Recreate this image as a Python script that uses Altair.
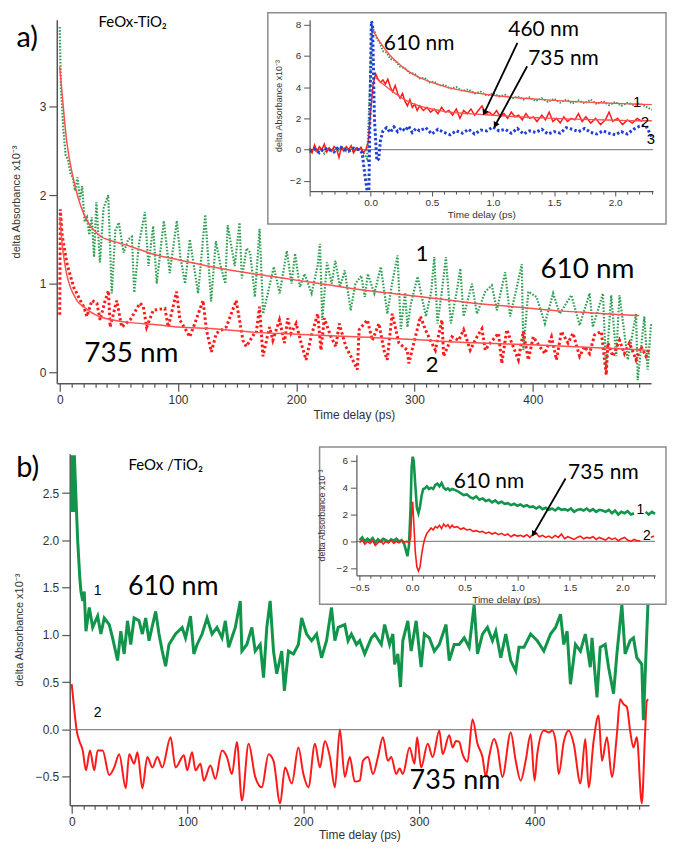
import altair as alt
import pandas as pd

# ================= Panel a : main (FeOx-TiO2) =================
A610_T = [0, 1, 2, 3, 5, 7, 9, 11, 13, 15, 17, 19, 21, 23, 25, 27, 29, 31, 34, 37,
          41, 44, 47, 50, 54, 58, 61, 63, 67, 72, 75, 79, 82, 88, 93, 99, 102, 106, 110, 117,
          123, 128, 132, 136, 140, 142, 148, 152, 154, 158, 161, 165, 169, 172, 181, 186, 192, 196, 199, 203,
          207, 213, 218, 220, 222, 226, 230, 233, 237, 241, 246, 250, 255, 258, 260.5, 266, 271.5, 277, 281, 285.6,
          288.4, 292, 294, 297, 302.6, 309.6, 314, 316.7, 319.4, 323, 326.5, 330.7, 336.3, 338.7, 341.5, 348.5, 352.8, 359.8, 365.4, 369.6,
          376.6, 380.8, 386.5, 390.7, 392, 396.2, 403.2, 410.2, 417.2, 422.8, 432.6, 439.6, 448, 450.8, 459.3, 462, 466.3, 470.5, 473.3, 480.3,
          487.3, 488.7, 494.3, 497.1, 500]
A610_V = [3.9, 3.2, 3.0, 2.75, 2.45, 2.4, 2.25, 2.2, 2.05, 2.2, 1.95, 2.1, 1.7, 1.75, 1.55, 1.75, 1.3, 1.92, 1.24, 1.85,
          2.0, 0.89, 1.6, 1.69, 1.35, 1.5, 1.53, 0.9, 1.45, 1.81, 1.2, 1.65, 1.0, 1.71, 1.12, 1.71, 1.3, 1.0, 1.5, 0.89,
          1.78, 0.8, 1.48, 1.2, 1.0, 1.66, 1.2, 1.69, 1.06, 1.4, 1.35, 0.85, 1.62, 0.66, 1.19, 0.89, 1.37, 1.0, 1.34, 0.96,
          1.11, 0.89, 1.2, 1.45, 0.59, 1.24, 1.0, 1.26, 0.96, 1.15, 0.7, 1.0, 1.09, 0.85, 1.11, 0.89, 1.19, 0.66, 1.0, 1.32,
          0.49, 0.9, 0.51, 0.78, 1.08, 0.63, 0.9, 1.3, 0.55, 0.9, 1.3, 0.55, 0.96, 1.17, 0.63, 1.0, 0.66, 0.91, 0.98, 0.7,
          1.13, 0.63, 0.96, 1.22, 0.25, 0.91, 0.85, 0.55, 0.89, 0.66, 0.87, 0.53, 0.89, 0.51, 0.89, 0.03, 0.87, 0.18, 0.87, 0.14,
          0.66, -0.09, 0.63, 0.03, 0.55]

A735_T = [0, 0.5, 2, 6.2, 11.8, 17.4, 20.2, 23, 27.2, 31.4, 34.2, 38.4, 41.2, 42.6, 48.2, 52.4, 59.5, 67.9, 70.7, 73.5,
          79.1, 88.9, 91.8, 98.8, 101.6, 110, 114.2, 121.2, 124, 128.2, 132.4, 140.8, 149.2, 154.9, 157.7, 164.7,
          166.1, 169, 171.8, 177.4, 180.2, 185.8, 190, 192.8, 195.6, 199.9, 204.1, 208.3, 212.5, 218.1, 220.9, 223.7, 229.3, 233.5, 236.3, 241.9,
          246.1, 251.7, 253.1, 260.1, 264.3, 269.9, 274.1, 276.9, 281.1, 286.8, 293.8, 295.2, 299.4, 305, 309.2, 313.4, 317.6, 323.2, 324.6, 331.6,
          337.3, 341.5, 347.1, 352.8, 357, 359.8, 364, 371, 373.8, 378, 382.2, 387.8, 392, 396.2, 400.4, 405.9, 410.2, 415.8, 420, 424.2,
          429.8, 434, 439.6, 443.8, 448, 452.2, 457.9, 462.1, 463.5, 467.7, 473.3, 477.5, 481.7, 487.3, 491.5, 495.7, 498]
A735_V = [0.65, 1.84, 1.55, 1.22, 0.96, 0.81, 0.74, 0.63, 0.81, 0.78, 0.59, 0.81, 0.92, 0.51, 0.81, 0.51, 0.59, 0.78, 0.74, 0.51,
          0.7, 0.72, 0.51, 0.91, 0.59, 0.4, 0.55, 0.81, 0.48, 0.23, 0.44, 0.51, 0.81, 0.36, 0.29, 0.44,
          0.44, 0.74, 0.18, 0.51, 0.36, 0.59, 0.33, 0.61, 0.44, 0.55, 0.33, 0.14, 0.4, 0.66, 0.25, 0.61, 0.4, 0.29, 0.55, 0.29,
          0.18, 0.03, 0.48, 0.59, 0.36, 0.55, 0.25, 0.14, 0.66, 0.33, 0.25, 0.1, 0.33, 0.63, 0.48, 0.36, 0.25, 0.59, 0.18, 0.4,
          0.36, 0.48, 0.25, 0.4, 0.49, 0.25, 0.33, 0.44, 0.1, 0.48, 0.33, 0.14, 0.46, 0.14, 0.4, 0.29, 0.21, 0.4, 0.14, 0.46,
          0.33, 0.44, 0.18, 0.29, 0.21, 0.42, 0.46, -0.03, 0.33, 0.18, 0.36, 0.21, 0.33, 0.14, 0.29, 0.18, 0.25]

A610_FIT_T = [0, 2, 4, 6, 8, 10, 13, 16, 20, 25, 30, 35, 40, 50, 60, 80, 100, 125, 150, 175, 200, 225, 250,
              275, 300, 325, 350, 375, 400, 425, 450, 475, 490]
A610_FIT_V = [3.45, 3.15, 2.85, 2.6, 2.42, 2.28, 2.1, 1.95, 1.8, 1.67, 1.59, 1.53, 1.5, 1.46, 1.42, 1.33, 1.27, 1.2,
              1.14, 1.09, 1.04, 0.99, 0.94, 0.9, 0.86, 0.82, 0.78, 0.75, 0.72, 0.69, 0.67, 0.65, 0.64]
A735_FIT_T = [0, 1, 2, 4, 6, 9, 12, 15, 20, 25, 30, 35, 45, 60, 80, 100, 130, 165, 200, 250, 300, 335, 400, 450, 495]
A735_FIT_V = [1.75, 1.6, 1.45, 1.25, 1.1, 0.96, 0.87, 0.8, 0.74, 0.69, 0.65, 0.62, 0.59, 0.56, 0.54, 0.51, 0.49, 0.45,
              0.43, 0.40, 0.37, 0.34, 0.31, 0.28, 0.25]

# ================= Panel a : inset (ps) =================
IA610_T = [-0.5, -0.47, -0.44, -0.41, -0.38, -0.35, -0.32, -0.29, -0.26, -0.23, -0.2, -0.17, -0.14, -0.11, -0.08, -0.05,
           -0.03, -0.01, 0.01, 0.03, 0.05, 0.07, 0.1, 0.13, 0.16, 0.2, 0.24, 0.28, 0.32, 0.36, 0.4, 0.44, 0.48, 0.52, 0.56, 0.6,
           0.65, 0.7, 0.75, 0.8, 0.85, 0.9, 0.95, 1.0, 1.05, 1.1, 1.15, 1.2, 1.25, 1.3, 1.35, 1.4, 1.45, 1.5, 1.55, 1.6,
           1.65, 1.7, 1.75, 1.8, 1.85, 1.9, 1.95, 2.0, 2.05, 2.1, 2.15, 2.2, 2.25, 2.3]
IA610_V = [-0.2, 0.1, -0.15, 0.05, -0.25, 0.15, -0.05, 0.1, -0.1, 0.2, -0.1, 0.05, -0.15, 0.1, -0.05, -0.3,
           -0.6, 3.5, 7.8, 7.6, 7.1, 6.9, 6.3, 6.2, 5.8, 5.7, 5.3, 5.2, 4.9, 4.85, 4.55, 4.6, 4.3, 4.35, 4.1, 4.15,
           3.9, 4.0, 3.75, 3.85, 3.6, 3.7, 3.45, 3.6, 3.4, 3.5, 3.25, 3.4, 3.2, 3.35, 3.1, 3.3, 3.05, 3.25, 3.0, 3.2,
           2.95, 3.15, 2.95, 3.2, 2.9, 3.1, 2.85, 3.05, 2.8, 3.0, 2.85, 2.95, 2.75, 2.55]
IA610_FIT_T = [0.02, 0.05, 0.1, 0.15, 0.2, 0.3, 0.4, 0.5, 0.6, 0.7, 0.8, 0.9, 1.0, 1.2, 1.4, 1.6, 1.8, 2.0, 2.2, 2.3]
IA610_FIT_V = [7.6, 7.2, 6.6, 6.1, 5.7, 5.05, 4.6, 4.3, 4.05, 3.85, 3.7, 3.58, 3.48, 3.32, 3.2, 3.1, 3.02, 2.96, 2.9, 2.88]

IA460_T = [-0.5, -0.48, -0.46, -0.44, -0.42, -0.4, -0.38, -0.36, -0.34, -0.32, -0.3, -0.28, -0.26, -0.24, -0.22, -0.2,
           -0.18, -0.16, -0.14, -0.12, -0.1, -0.08, -0.06, -0.04,
           -0.02, 0.0, 0.02, 0.04, 0.06, 0.08, 0.1, 0.12, 0.14, 0.16, 0.18, 0.2, 0.22, 0.24, 0.26, 0.28, 0.3, 0.32, 0.34, 0.36,
           0.38, 0.4, 0.43, 0.46, 0.49, 0.52, 0.55, 0.58, 0.61, 0.64, 0.67, 0.7, 0.73, 0.76, 0.79, 0.82, 0.85, 0.88, 0.91, 0.94,
           0.97, 1.0, 1.03, 1.06, 1.09, 1.12, 1.15, 1.18, 1.21, 1.24, 1.27, 1.3, 1.33, 1.36, 1.4, 1.43, 1.46, 1.49, 1.52, 1.55,
           1.58, 1.61, 1.64, 1.67, 1.7, 1.73, 1.76, 1.8, 1.84, 1.88, 1.92, 1.95, 1.98, 2.02, 2.06, 2.1, 2.14, 2.18, 2.22]
IA460_V = [0.1, -0.2, 0.3, -0.1, 0.2, 0.0, 0.35, -0.15, 0.1, -0.1, 0.2, 0.05, -0.5, 0.15, -0.1, 0.2,
           0.0, 0.25, -0.2, 0.1, -0.05, 0.15, -0.2, 0.0,
           0.5, 2.5, 4.2, 4.85, 4.5, 4.3, 4.45, 4.2, 4.5, 4.0, 3.7, 4.1, 3.6, 3.3, 3.6, 3.1, 2.8, 3.2, 2.7, 2.9,
           2.5, 2.8, 2.5, 2.7, 2.4, 2.6, 2.3, 2.7, 2.4, 2.5, 2.2, 2.6, 2.0, 2.5, 2.3, 2.6, 2.2, 2.5, 2.8, 2.3,
           2.4, 2.2, 2.5, 2.1, 2.3, 2.0, 2.4, 2.1, 2.2, 1.9, 2.3, 2.0, 2.1, 1.8, 2.2, 1.9, 2.4, 1.8, 2.0, 1.7,
           2.1, 1.8, 2.0, 1.9, 2.3, 1.8, 2.1, 1.7, 2.0, 1.6, 1.9, 2.4, 1.8, 2.0, 1.6, 1.9, 1.7, 2.0, 1.8]
IA460_FIT_T = [0.04, 0.1, 0.2, 0.3, 0.4, 0.5, 0.6, 0.8, 1.0, 1.2, 1.4, 1.6, 1.8, 2.0, 2.2, 2.3]
IA460_FIT_V = [4.6, 4.2, 3.6, 3.1, 2.8, 2.6, 2.45, 2.3, 2.2, 2.1, 2.03, 1.97, 1.92, 1.88, 1.85, 1.85]

IA735_T = [-0.5, -0.46, -0.42, -0.38, -0.34, -0.3, -0.26, -0.22, -0.18, -0.14, -0.1,
           -0.07, -0.05, -0.03, -0.015, -0.005, 0.005, 0.015, 0.03, 0.05, 0.065, 0.08,
           0.1, 0.13, 0.16, 0.19, 0.22, 0.25, 0.28, 0.31, 0.34, 0.37, 0.4,
           0.45, 0.5, 0.55, 0.6, 0.65, 0.7, 0.75, 0.8, 0.85, 0.9, 0.95, 1.0, 1.05, 1.1, 1.15, 1.2, 1.25, 1.3, 1.35, 1.4,
           1.45, 1.5, 1.55, 1.6, 1.65, 1.7, 1.75, 1.8, 1.85, 1.9, 1.95, 2.0, 2.05, 2.1, 2.15, 2.2, 2.25, 2.3]
IA735_V = [-0.1, 0.05, -0.2, 0.1, 0.0, -0.15, 0.2, 0.05, -0.1, 0.1, 0.0,
           -0.2, -1.5, -2.6, -2.6, 3.0, 8.2, 8.0, 2.0, -0.7, -0.6, 0.6,
           1.2, 1.4, 1.1, 1.45, 1.15, 1.4, 1.2, 1.5, 1.1, 1.35, 1.2,
           1.4, 1.0, 1.3, 1.1, 0.95, 1.2, 1.05, 1.3, 1.0, 1.25, 1.2, 1.45, 1.2, 1.3, 1.05, 1.35, 1.0, 1.2, 1.1, 1.3,
           1.0, 1.15, 1.05, 1.4, 1.3, 1.15, 1.35, 1.1, 1.0, 1.2, 1.05, 0.95, 1.15, 1.0, 1.3, 1.5, 1.55, 0.8]

# ================= Panel b : main (FeOx / TiO2) =================
B610_T = [0, 0.7, 1.5, 2.3, 3.5, 5.2, 7, 8, 9.5, 10.8, 12.3, 15.2, 18.1, 22.4, 25.2, 28.1, 32.4, 35.3, 39.6, 42.4,
          45.3, 48.2, 51, 53.9, 58.2, 61, 63.9, 66.8, 72.5, 75.4, 78.2, 81.1, 84, 89.7, 95.4, 98.3, 102.6, 105.5, 108.3, 112.6,
          116.9, 121.2, 125.5, 129.8, 132.7, 135.6, 141.3, 145.6, 147, 151.3, 155.6, 158.5, 162.8, 165.7, 168.5, 171.4, 174.3, 177.1, 181.4, 183.7,
          187.2, 191.5, 195.8, 198.6, 202.9, 207.2, 211.5, 215.8, 220.1, 224.4, 227.3, 230.2, 235.9, 238.7, 241.6, 245.9, 248.8, 253.1, 258.8, 261.7,
          267.4, 270.3, 274.6, 277.4, 278.9, 281.7, 284, 286, 290.3, 293.2, 297.5, 301.8, 304.6, 308.9, 313.2, 317.5, 323.3, 326.1, 330.4, 334.7,
          339, 343.3, 347.6, 350.5, 354.8, 359.1, 363.4, 366.3, 370.6, 374.9, 379.2, 383.5, 386.3, 390.6, 396.4, 402.1, 407.8, 413.6, 417.9, 422.2,
          425, 427.9, 430.8, 435.1, 439.4, 443.6, 447.9, 449.4, 453.7, 456.5, 460.8, 463.7, 468, 470.9, 475.2, 478, 482.3, 485.2, 488.1, 492.4,
          493.8, 496.7, 498.1]
B610_V = [2.3, 2.9, 2.3, 2.9, 2.5, 1.99, 1.6, 1.46, 1.36, 1.46, 1.04, 1.29, 1.08, 1.2, 1.01, 1.18, 1.11, 0.97, 0.73, 1.04,
          0.8, 1.15, 0.9, 1.18, 1.15, 1.01, 1.18, 0.94, 1.25, 1.01, 0.83, 0.67, 0.9, 1.01, 1.08, 0.97, 1.2, 0.8, 0.9, 1.01,
          1.18, 1.01, 1.08, 0.97, 1.15, 0.87, 1.08, 1.36, 0.83, 0.9, 1.08, 0.83, 0.9, 0.55, 1.08, 1.36, 0.83, 0.59, 0.83, 0.41,
          0.83, 0.8, 0.9, 1.18, 1.01, 0.94, 1.01, 0.76, 0.94, 1.29, 0.94, 1.08, 1.11, 0.94, 1.01, 0.9, 0.94, 0.8, 0.97, 1.01,
          0.9, 1.11, 0.9, 1.01, 0.69, 0.8, 0.45, 0.94, 1.15, 0.83, 1.15, 0.66, 1.01, 0.97, 0.83, 0.9, 1.11, 0.73, 0.9, 0.9,
          0.97, 0.87, 1.32, 0.8, 1.01, 1.08, 0.94, 1.04, 0.76, 1.01, 0.73, 0.62, 0.87, 0.87, 1.01, 0.94, 0.83, 1.01, 1.08, 1.22,
          0.9, 1.04, 0.48, 0.9, 0.83, 1.01, 0.66, 0.97, 0.34, 0.87, 0.9, 0.66, 0.38, 0.8, 1.32, 0.8, 0.94, 0.97, 0.76, 0.69,
          0.1, 1.01, 1.45]

B735_T = [0, 2.3, 4.3, 6.6, 9.5, 12.3, 15.8, 19.5, 22.4, 26.7, 32.4, 36.7, 41, 46.7, 49.6, 53.9, 56.8, 61, 65.3, 69.7,
          74, 78.2, 85.4, 89.7, 96.9, 99.7, 104, 106.9, 111.2, 114.1, 119.8, 124.1, 129.8, 134.1, 138.4, 142.7, 147, 152.8, 158.5, 164.2,
          170, 174.3, 180, 184.3, 190.1, 195.8, 200.1, 204.4, 210.1, 214.4, 218.7, 223, 227.3, 231.6,
          235.9, 240.2, 244.5, 248.8, 251.6, 255.9, 260.2, 264.5, 268.8, 273.1, 276, 280.3, 283.2, 286, 291.8, 296.1, 298.3, 301.8, 307.5, 311.8,
          317.5, 320.4, 326.1, 329, 331.9, 334.7, 337.6, 341.9, 346.2, 350.5, 354.8, 357.7, 360.5, 364.8, 367.7, 372, 379.2, 383.5, 387.8, 392.1,
          396.4, 399.8, 402.1, 407.8, 412.1, 415, 417.9, 420.7, 425, 429.3, 433.6, 439.4, 443.6, 446.5, 450.8, 455.1, 458, 462.3, 466.6, 470.9,
          473.7, 476.6, 479.5, 482.3, 485.2, 488.1, 492.4, 495.2, 496.7, 498]
B735_V = [0.48, 0.2, -0.01, -0.12, -0.22, -0.43, -0.22, -0.43, -0.22, -0.22, -0.48, -0.4, -0.26, -0.62, -0.26, -0.36, -0.24, -0.62, -0.29, -0.4,
          -0.29, -0.4, -0.08, -0.4, -0.27, -0.43, -0.24, -0.43, -0.36, -0.54, -0.38, -0.52, -0.22, -0.29, -0.47, -0.13, -0.75, -0.15, -0.5, -0.61,
          -0.26, -0.33, -0.78, -0.4, -0.57, -0.19, -0.47, -0.61, -0.15, -0.4, -0.12, -0.29, -0.61, 0.0,
          -0.5, -0.29, -0.55, -0.54, -0.33, -0.29, -0.47, -0.29, -0.08, -0.33, -0.29, -0.47, -0.41, -0.47, -0.19, -0.36, -0.08, -0.4, -0.15, -0.29,
          -0.01, -0.26, -0.06, -0.19, -0.12, -0.13, -0.26, -0.34, 0.11, -0.15, -0.29, -0.5, -0.29, -0.1, -0.19, -0.5, -0.03, -0.33, -0.54, -0.33,
          -0.05, -0.54, -0.26, -0.01, -0.03, -0.01, -0.12, -0.47, -0.13, -0.01, -0.15, -0.57, -0.1, -0.61, -0.12, 0.15, -0.33, -0.08, -0.5, -0.05,
          0.32, 0.27, 0.24, -0.01, -0.19, -0.08, -0.78, -0.05, 0.3, 0.32]

# ================= Panel b : inset (ps) =================
IB610_T = [-0.5, -0.475, -0.45, -0.425, -0.4, -0.375, -0.35, -0.325, -0.3, -0.275, -0.25, -0.225, -0.2, -0.175, -0.15, -0.125, -0.1, -0.075,
           -0.055, -0.045, -0.03, -0.015, -0.005, 0.005, 0.015, 0.03, 0.045, 0.06, 0.075, 0.09, 0.105, 0.12, 0.14, 0.16, 0.18, 0.2, 0.22, 0.24,
           0.26, 0.28, 0.3, 0.32, 0.34, 0.36, 0.38, 0.4, 0.43, 0.46, 0.49, 0.52, 0.55, 0.58, 0.61, 0.64, 0.67, 0.7, 0.73, 0.76,
           0.79, 0.82, 0.85, 0.88, 0.91, 0.94, 0.97, 1.0, 1.03, 1.06, 1.09, 1.12, 1.15, 1.18, 1.21, 1.24, 1.27, 1.3, 1.33, 1.36,
           1.39, 1.42, 1.45, 1.48, 1.51, 1.54, 1.57, 1.6, 1.63, 1.66, 1.69, 1.72, 1.75, 1.78, 1.81, 1.84, 1.87, 1.9, 1.93, 1.96,
           1.99, 2.02, 2.05, 2.08, 2.11]
IB610_V = [0.1, 0.3, 0.0, 0.2, 0.05, 0.25, -0.1, 0.15, 0.0, 0.2, 0.1, -0.05, 0.15, 0.05, 0.2, 0.0, 0.1, -0.2,
           -0.8, -1.1, -0.3, 2.5, 5.5, 6.3, 6.0, 4.2, 2.5, 2.1, 2.6, 3.4, 3.9, 3.95, 4.1, 3.9, 4.0, 3.9, 4.2, 4.3,
           4.1, 4.35, 4.0, 3.85, 3.95, 3.8, 3.9, 3.85, 3.75, 3.6, 3.45, 3.5, 3.3, 3.2, 3.35, 3.1, 3.2, 3.0, 3.1, 2.9,
           3.05, 2.85, 2.95, 2.8, 2.85, 2.7, 2.8, 2.65, 2.75, 2.6, 2.7, 2.55, 2.6, 2.45, 2.6, 2.4, 2.5, 2.35, 2.45, 2.3,
           2.5, 2.35, 2.4, 2.3, 2.45, 2.2, 2.35, 2.4, 2.3, 2.45, 2.25, 2.4, 2.2, 2.35, 2.3, 2.2, 2.35, 2.1, 2.3, 2.0,
           2.2, 2.1, 2.25, 2.0, 2.1]
IB610_TAIL_T = [2.22, 2.25, 2.28, 2.31]
IB610_TAIL_V = [2.2, 2.0, 2.2, 2.05]

IB735_T = [-0.5, -0.475, -0.45, -0.425, -0.4, -0.375, -0.35, -0.325, -0.3, -0.275, -0.25, -0.225, -0.2, -0.175, -0.15, -0.125, -0.1, -0.075,
           -0.05, -0.03, -0.015, -0.005, 0.005, 0.015, 0.03, 0.045, 0.06, 0.075, 0.09, 0.105, 0.12, 0.14, 0.16, 0.18, 0.2, 0.22, 0.24, 0.26,
           0.28, 0.3, 0.32, 0.34, 0.36, 0.38, 0.4, 0.43, 0.46, 0.49, 0.52, 0.55, 0.58, 0.61, 0.64, 0.67, 0.7, 0.73, 0.76, 0.79,
           0.82, 0.85, 0.88, 0.91, 0.94, 0.97, 1.0, 1.03, 1.06, 1.09, 1.12, 1.15, 1.18, 1.21, 1.24, 1.27, 1.3, 1.33, 1.36, 1.39,
           1.42, 1.45, 1.48, 1.51, 1.54, 1.57, 1.6, 1.63, 1.66, 1.69, 1.72, 1.75, 1.78, 1.81, 1.84, 1.87, 1.9, 1.93, 1.96, 1.99,
           2.02, 2.05, 2.08, 2.11, 2.14, 2.17]
IB735_V = [-0.1, 0.1, -0.2, 0.0, -0.15, 0.05, -0.3, -0.1, 0.05, -0.2, 0.0, -0.1, 0.1, -0.15, 0.0, -0.1, 0.05, -0.05,
           0.0, -0.1, 0.3, 2.0, 2.95, 1.5, -0.8, -1.9, -2.2, -1.9, -1.0, -0.3, 0.2, 0.6, 0.8, 1.0, 0.85, 1.1, 1.0, 1.2,
           0.95, 1.3, 1.1, 1.25, 1.0, 1.2, 1.05, 1.1, 0.9, 1.0, 0.85, 0.9, 0.75, 0.8, 0.7, 0.75, 0.6, 0.7, 0.55, 0.65,
           0.5, 0.6, 0.45, 0.55, 0.35, 0.5, 0.4, 0.45, 0.35, 0.5, 0.3, 0.55, 0.6, 0.35, 0.45, 0.3, 0.4, 0.25, 0.45, 0.3,
           0.55, 0.2, 0.35, 0.25, 0.15, 0.3, 0.4, 0.2, 0.3, 0.25, 0.35, 0.15, 0.3, 0.2, 0.1, 0.3, 0.15, 0.25, 0.05, 0.2,
           0.3, 0.1, 0.0, 0.15, 0.05, 0.05]
IB735_TAIL_T = [2.27, 2.3]
IB735_TAIL_V = [0.3, 0.4]

# ================= styling =================
FONT = "Liberation Sans"
ANN = "Lato"
GREEN_DOT = "#2e9e52"
GREEN = "#10954a"
RED = "#ff1a1a"
FIT = "#ff5050"
BLUE = "#1f3fd6"
ZERO = "#8a8a8a"

W_A, H_A = 597, 365
W_B, H_B = 597, 353
B_SHIFT = 13  # panel b's y axis sits a little to the right of panel a's

SX_A = alt.Scale(domain=[-2.5, 500], nice=False, zero=False)
SY_A = alt.Scale(domain=[-0.124, 3.98], nice=False, zero=False)
SX_IA = alt.Scale(domain=[-0.5, 2.31], range=[254, 599], nice=False, zero=False)
SY_IA = alt.Scale(domain=[-2.65, 8.3], range=[172, 0], nice=False, zero=False)
SX_B = alt.Scale(domain=[-1.72, 498.7], range=[B_SHIFT, B_SHIFT + 582], nice=False, zero=False)
SY_B = alt.Scale(domain=[-0.8, 2.915], nice=False, zero=False)
SX_IB = alt.Scale(domain=[-0.53, 2.31], range=[301, 601], nice=False, zero=False)
SY_IB = alt.Scale(domain=[-2.52, 6.44], range=[122, 1], nice=False, zero=False)

T100 = "abs(datum.value - 100*round(datum.value/100)) < 0.001"
T05 = "abs(datum.value*2 - round(datum.value*2)) < 0.001"
YTITLE = "delta Absorbance  x10\u207b\u00b3"


def axis(**kw):
    base = dict(grid=False, labelFont=FONT, titleFont=FONT, labelColor="#333", titleColor="#333",
                domainColor="#555", tickColor="#555", titleFontWeight="normal", labelOverlap=False)
    base.update(kw)
    return alt.Axis(**base)


def main_x_axis(tpad):
    return axis(orient="bottom", values=list(range(0, 500, 10)),
                labelExpr=f"({T100}) ? datum.label : ''",
                tickDash={"condition": {"test": T100, "value": [30, 1]}, "value": [4, 30]},
                tickSize=8, tickWidth=1.2, domainWidth=1.5, labelPadding=3, titlePadding=tpad,
                labelFontSize=12, titleFontSize=12, title="Time delay  (ps)")


INSET_TICKS = [round(-0.5 + 0.1 * i, 1) for i in range(29)]


def inset_x_axis(offset, show_neg):
    cond = f"({T05})" + ("" if show_neg else " && datum.value > -0.25")
    return axis(orient="bottom", offset=offset, zindex=1, values=INSET_TICKS, format=".1f",
                labelExpr=f"{cond} ? datum.label : ''",
                tickDash={"condition": {"test": T05, "value": [30, 1]}, "value": [3, 30]},
                tickSize=5, tickWidth=1, domainWidth=1.2, labelPadding=2, titlePadding=2,
                labelFontSize=10, titleFontSize=10, title="Time delay  (ps)")


def inset_y_axis(offset, values, tpad):
    return axis(orient="left", offset=offset, zindex=1, values=values, format="d",
                tickSize=6, tickWidth=1, domainWidth=1.2, labelPadding=3, titlePadding=tpad,
                labelFontSize=10, titleFontSize=9, title=YTITLE)


class Frame:
    """Shared scales + axes for one group of layers."""
    def __init__(self, sx, sy, ax, ay):
        self.sx, self.sy, self.ax, self.ay = sx, sy, ax, ay

    def X(self, f):
        return alt.X(f, scale=self.sx, axis=self.ax)

    def Y(self, f):
        return alt.Y(f, scale=self.sy, axis=self.ay)

    def line(self, t, v, color, width, dash=None, interp="linear", seg=None):
        d = pd.DataFrame({"t": t, "v": v})
        enc = {"x": self.X("t:Q"), "y": self.Y("v:Q")}
        if seg is not None:
            d["seg"] = seg
            enc["detail"] = "seg:N"
        mk = dict(color=color, strokeWidth=width, interpolate=interp)
        if dash:
            mk["strokeDash"] = dash
        return alt.Chart(d).mark_line(**mk).encode(**enc)

    def text(self, s, t, v, size, font=ANN, align="center"):
        d = pd.DataFrame({"t": [t], "v": [v], "s": [s]})
        return alt.Chart(d).mark_text(font=font, fontSize=size, align=align, baseline="middle",
                                      color="black").encode(x=self.X("t:Q"), y=self.Y("v:Q"), text="s:N")

    def box(self, t0, t1, v0, v1):
        d = pd.DataFrame({"t": [t0], "t2": [t1], "v": [v0], "v2": [v1]})
        return alt.Chart(d).mark_rect(fill="white", stroke="#8c8c8c", strokeWidth=1.5).encode(
            x=self.X("t:Q"), x2="t2:Q", y=self.Y("v:Q"), y2="v2:Q")

    def hrule(self, t0, t1, v):
        d = pd.DataFrame({"t": [t0], "t2": [t1], "v": [v]})
        return alt.Chart(d).mark_rule(color=ZERO, strokeWidth=1.3).encode(
            x=self.X("t:Q"), x2="t2:Q", y=self.Y("v:Q"))

    def arrow(self, t0, v0, t1, v1, angle):
        d = pd.DataFrame({"t": [t0], "v": [v0], "t2": [t1], "v2": [v1]})
        shaft = alt.Chart(d).mark_rule(color="black", strokeWidth=1.8).encode(
            x=self.X("t:Q"), y=self.Y("v:Q"), x2="t2:Q", y2="v2:Q")
        d2 = pd.DataFrame({"t": [t1], "v": [v1]})
        head = alt.Chart(d2).mark_point(shape="triangle", angle=angle, filled=True, size=45,
                                        color="black", opacity=1).encode(x=self.X("t:Q"), y=self.Y("v:Q"))
        return [shaft, head]


# ---------------- panel a ----------------
FA = Frame(SX_A, SY_A, main_x_axis(4),
           axis(orient="left", values=[0, 1, 2, 3], format="d", tickSize=8, tickWidth=1.2, domainWidth=1.5,
                labelPadding=3, titlePadding=18, labelFontSize=12, titleFontSize=11, title=YTITLE))
main_a = alt.layer(
    FA.line(A610_T, A610_V, GREEN_DOT, 2.2, dash=[1.6, 1.6]),
    FA.line(A735_T, A735_V, RED, 3, dash=[2.5, 2.5]),
    FA.line(A610_FIT_T, A610_FIT_V, FIT, 1.5, interp="monotone"),
    FA.line(A735_FIT_T, A735_FIT_V, FIT, 1.5, interp="monotone"),
    FA.text("a)", -27.5, 3.78, 29),
    FA.text("FeOx-TiO\u2082", 32.8, 3.955, 15, align="left"),
    FA.text("1", 306.4, 1.33, 22),
    FA.text("610 nm", 446.2, 1.15, 28),
    FA.text("2", 314.8, 0.08, 22),
    FA.text("735 nm", 60.6, 0.21, 28),
)

FIA = Frame(SX_IA, SY_IA, inset_x_axis(-193, False), inset_y_axis(-254, [-2, 0, 2, 4, 6, 8], 6))
inset_a = alt.layer(
    FIA.box(-0.842, 2.416, 8.75, -4.75),
    FIA.hrule(-0.5, 2.31, 0),
    FIA.line(IA610_T, IA610_V, GREEN_DOT, 2, dash=[1.5, 1.5]),
    FIA.line(IA460_T, IA460_V, RED, 1.5),
    FIA.line(IA735_T, IA735_V, BLUE, 3, dash=[2.5, 2.2]),
    FIA.line(IA610_FIT_T, IA610_FIT_V, FIT, 1.4, interp="monotone"),
    FIA.line(IA460_FIT_T, IA460_FIT_V, FIT, 1.4, interp="monotone"),
    *FIA.arrow(1.2, 6.82, 0.933, 2.42, 205),
    *FIA.arrow(1.28, 5.33, 1.023, 1.62, 208),
    FIA.text("610 nm", 0.396, 6.74, 21),
    FIA.text("460 nm", 1.414, 7.63, 21),
    FIA.text("735 nm", 1.577, 5.82, 21),
    FIA.text("1", 2.18, 3.02, 15, font=FONT),
    FIA.text("2", 2.244, 1.74, 15, font=FONT),
    FIA.text("3", 2.293, 0.66, 15, font=FONT),
)

panel_a = alt.layer(main_a, inset_a).resolve_scale(x="independent", y="independent").properties(
    width=W_A, height=H_A)

# ---------------- panel b ----------------
FB = Frame(SX_B, SY_B, main_x_axis(2),
           axis(orient="left", offset=-B_SHIFT, values=[-0.5, 0, 0.5, 1.0, 1.5, 2.0, 2.5], format=".1f",
                tickSize=8, tickWidth=1.2, domainWidth=1.5, labelPadding=3, titlePadding=11,
                labelFontSize=12, titleFontSize=11, title=YTITLE))
main_b = alt.layer(
    FB.hrule(-1.72, 498.7, 0),
    FB.line(B610_T, B610_V, GREEN, 3),
    FB.line(B735_T, B735_V, RED, 2, interp="monotone"),
    FB.text("b)", -38.0, 2.76, 29),
    FB.text("FeOx /TiO\u2082", 49.0, 2.8, 15, align="left"),
    FB.text("1", 22.4, 1.46, 14, font=FONT),
    FB.text("610 nm", 87.7, 1.505, 27),
    FB.text("2", 22.4, 0.17, 14, font=FONT),
    FB.text("735 nm", 331, -0.547, 27),
)

ib610 = IB610_T + IB610_TAIL_T
ib610v = IB610_V + IB610_TAIL_V
ib610s = [0] * len(IB610_T) + [1] * len(IB610_TAIL_T)
ib735 = IB735_T + IB735_TAIL_T
ib735v = IB735_V + IB735_TAIL_V
ib735s = [0] * len(IB735_T) + [1] * len(IB735_TAIL_T)

FIB = Frame(SX_IB, SY_IB, inset_x_axis(-231, True), inset_y_axis(-301, [-2, 0, 2, 4, 6], 10))
inset_b = alt.layer(
    FIB.box(-0.880, 2.414, 7.03, -4.67),
    FIB.hrule(-0.53, 2.31, 0),
    FIB.line(ib610, ib610v, GREEN, 2.6, seg=ib610s),
    FIB.line(ib735, ib735v, RED, 1.6, seg=ib735s),
    *FIB.arrow(1.459, 4.68, 1.158, 0.61, 210),
    FIB.text("610 nm", 0.73, 4.44, 21),
    FIB.text("735 nm", 1.818, 5.11, 21),
    FIB.text("1", 2.17, 2.37, 14, font=FONT),
    FIB.text("2", 2.232, 0.37, 14, font=FONT),
)

panel_b = alt.layer(main_b, inset_b).resolve_scale(x="independent", y="independent").properties(
    width=W_B, height=H_B)

chart = alt.vconcat(panel_a, panel_b, spacing=26).properties(
    padding={"left": 2, "top": 2, "right": 0, "bottom": 0}, background="white").configure_view(stroke=None)

chart.save("out.html", embed_options={"renderer": "svg", "actions": False})
